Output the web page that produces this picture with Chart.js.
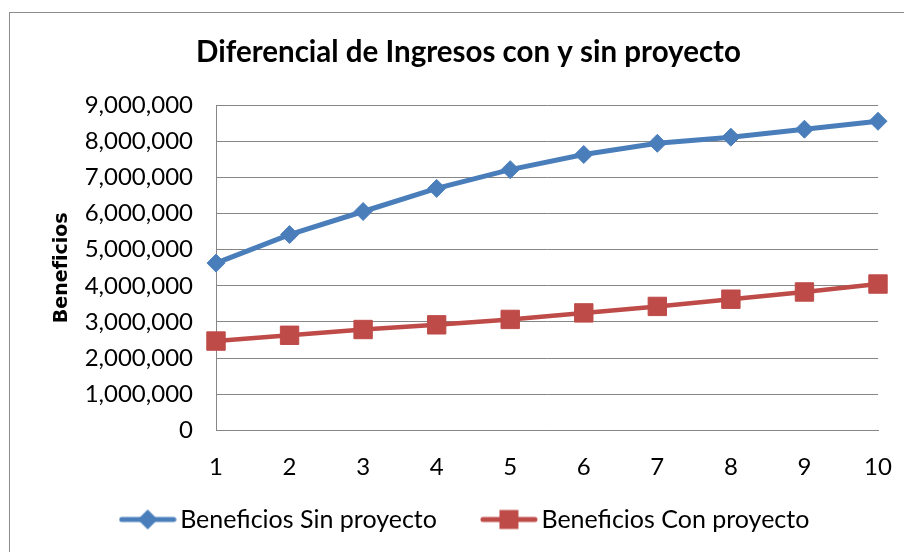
<!DOCTYPE html>
<html lang="es">
<head>
  <meta charset="UTF-8">
  <title>Diferencial de Ingresos</title>
  <script src="https://cdn.jsdelivr.net/npm/chart.js"></script>
  <style>
    html, body { margin: 0; padding: 0; background: #fff; }
    #wrap { width: 904px; height: 552px; }
  </style>
</head>
<body>
  <div id="wrap"><canvas id="chart" width="904" height="552"></canvas></div>
  <script>
    // datos
    const years = ['1', '2', '3', '4', '5', '6', '7', '8', '9', '10'];
    const sinProyecto = [4630000, 5420000, 6060000, 6700000, 7220000, 7640000, 7950000, 8120000, 8340000, 8560000];
    const conProyecto = [2470000, 2630000, 2790000, 2920000, 3070000, 3250000, 3430000, 3630000, 3830000, 4050000];

    const blue = '#4A7EBB';
    const red = '#BE4B48';
    const fontFam = 'Lato, "Open Sans", sans-serif';

    // muestra de leyenda: linea con marcador
    function legendSample(color, shape) {
      const c = document.createElement('canvas');
      c.width = 58; c.height = 22;
      const g = c.getContext('2d');
      g.strokeStyle = color;
      g.lineWidth = 5;
      g.lineCap = 'round';
      g.beginPath(); g.moveTo(3, 11); g.lineTo(55, 11); g.stroke();
      g.fillStyle = color;
      g.beginPath();
      if (shape === 'diamond') {
        g.moveTo(29, 1); g.lineTo(39, 11); g.lineTo(29, 21); g.lineTo(19, 11);
      } else {
        g.rect(19.5, 1.5, 19, 19);
      }
      g.closePath(); g.fill();
      return c;
    }
    const samples = [legendSample(blue, 'diamond'), legendSample(red, 'square')];

    // marco gris del grafico
    const frame = {
      id: 'frame',
      beforeDraw(chart) {
        const ctx = chart.ctx;
        ctx.save();
        ctx.strokeStyle = '#8c8c8c';
        ctx.lineWidth = 1;
        ctx.strokeRect(9.5, 12.5, 1000, 1000);
        ctx.restore();
      }
    };

    new Chart(document.getElementById('chart'), {
      type: 'line',
      data: {
        labels: years,
        datasets: [{
          label: 'Beneficios Sin proyecto',
          data: sinProyecto,
          borderColor: blue,
          backgroundColor: blue,
          borderWidth: 5,
          pointStyle: 'rectRot',
          pointRadius: 9,
          pointBorderWidth: 1,
          tension: 0
        }, {
          label: 'Beneficios Con proyecto',
          data: conProyecto,
          borderColor: red,
          backgroundColor: red,
          borderWidth: 4.5,
          pointStyle: 'rect',
          pointRadius: 13,
          pointBorderWidth: 1,
          tension: 0
        }]
      },
      options: {
        responsive: false,
        animation: false,
        layout: { padding: { left: 47, right: 14, top: 12, bottom: 10 } },
        plugins: {
          title: {
            display: true,
            text: 'Diferencial de Ingresos con y sin proyecto',
            color: '#000',
            font: { family: fontFam, size: 29.5, weight: 'bold' },
            padding: { top: 23, bottom: 35 }
          },
          legend: {
            position: 'bottom',
            labels: {
              color: '#000',
              font: { family: fontFam, size: 25 },
              usePointStyle: true,
              pointStyleWidth: 40,
              padding: 2,
              generateLabels(chart) {
                const items = Chart.defaults.plugins.legend.labels.generateLabels(chart);
                items.forEach((it, i) => {
                  it.pointStyle = samples[i];
                  // separacion entre las dos entradas
                  if (i === 0) it.text += '\u2003\u2003\u2002';
                });
                return items;
              }
            }
          },
          tooltip: { enabled: false }
        },
        scales: {
          x: {
            offset: false,
            afterFit(scale) { scale.paddingRight = 26; scale.paddingLeft = 0; },
            grid: { display: false, drawTicks: false },
            border: { display: true, color: '#868686', width: 1 },
            ticks: { color: '#000', font: { family: fontFam, size: 24 }, padding: 23, maxRotation: 0 }
          },
          y: {
            min: 0,
            max: 9000000,
            afterFit(scale) { scale.width = 169; },
            title: {
              display: true,
              text: 'Beneficios',
              color: '#000',
              font: { family: '"DejaVu Sans", sans-serif', size: 19, weight: 'bold' }
            },
            grid: { color: '#868686', lineWidth: 1, drawTicks: false },
            border: { display: true, color: '#868686', width: 1 },
            ticks: {
              stepSize: 1000000,
              padding: 23,
              color: '#000',
              font: { family: fontFam, size: 24 },
              callback: v => v.toLocaleString('en-US')
            }
          }
        }
      },
      plugins: [frame]
    });
  </script>
</body>
</html>
